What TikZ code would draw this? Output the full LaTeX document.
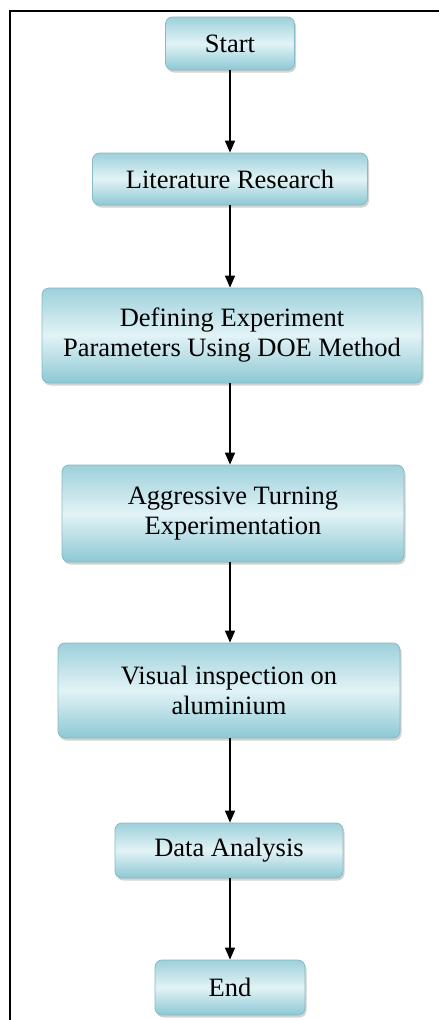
\documentclass[tikz,border=0pt]{standalone}
\usepackage{fontspec}
\setmainfont{Liberation Serif}
\usepackage{xcolor}
\usetikzlibrary{arrows.meta,shadows}

\definecolor{boxedge}{RGB}{140,200,212}
\definecolor{boxlight}{RGB}{226,243,246}

\tikzset{
  stage/.style={draw=boxedge!80!gray, line width=0.8pt, rounded corners=7pt,
    top color=boxedge!85, bottom color=boxedge, middle color=boxlight,
    drop shadow={shadow xshift=1.5pt, shadow yshift=-2.5pt, opacity=0.35},
    align=center, inner sep=0pt, font=\fontsize{26.5}{30}\selectfont},
  flow/.style={line width=1.6pt, -{Triangle[width=10pt,length=12pt]}}
}

\begin{document}
\begin{tikzpicture}[x=1pt,y=1pt]
\useasboundingbox (0,0) rectangle (439,-1020);
% page frame
\draw [line width=2.5pt] (10,-1025) -- (10,-11) -- (445,-11);
% steps
\node [stage, minimum width=129pt, minimum height=53pt] (start) at (230,-43.5) {Start};
\node [stage, minimum width=275pt, minimum height=52pt] (lit) at (230,-179) {Literature Research};
\node [stage, minimum width=380pt, minimum height=95pt] (doe) at (232,-335.5) {Defining Experiment\\Parameters Using DOE Method};
\node [stage, minimum width=342pt, minimum height=97pt] (turn) at (233,-513.5) {Aggressive Turning\\Experimentation};
\node [stage, minimum width=342pt, minimum height=95pt] (vis) at (229,-690.5) {Visual inspection on\\aluminium};
\node [stage, minimum width=228pt, minimum height=55pt] (data) at (229,-850.5) {Data Analysis};
\node [stage, minimum width=150pt, minimum height=55pt] (end) at (230,-987.5) {End};
% arrows
\draw [flow] (start.south) -- (start.south |- lit.north);
\draw [flow] (start.south |- lit.south) -- (start.south |- doe.north);
\draw [flow] (start.south |- doe.south) -- (start.south |- turn.north);
\draw [flow] (start.south |- turn.south) -- (start.south |- vis.north);
\draw [flow] (start.south |- vis.south) -- (start.south |- data.north);
\draw [flow] (start.south |- data.south) -- (start.south |- end.north);
\end{tikzpicture}
\end{document}
